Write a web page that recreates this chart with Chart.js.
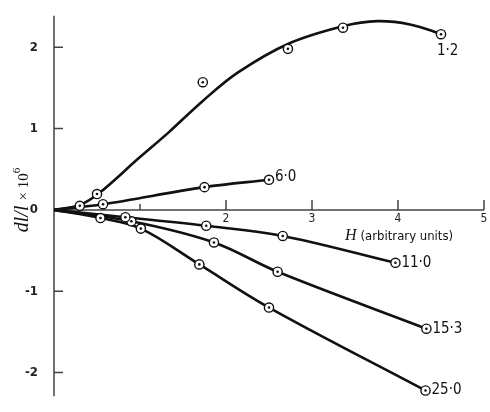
<!DOCTYPE html>
<html>
<head>
<meta charset="utf-8">
<script src="https://cdn.jsdelivr.net/npm/chart.js@4/dist/chart.umd.min.js"></script>
<style>
  body { margin: 0; background: #fff; }
  canvas { display: block; }
</style>
</head>
<body>
<canvas id="chart" width="490" height="412"></canvas>
<script>
// Series labels (field values) as written on the plot
const seriesNames = ['1·2', '6·0', '11·0', '15·3', '25·0'];

// Measured points for each series
const x12 = [0.30, 0.50, 1.73, 2.72, 3.36, 4.50];
const y12 = [0.05, 0.195, 1.57, 1.98, 2.24, 2.16];
const x60 = [0.57, 1.75, 2.50];
const y60 = [0.07, 0.28, 0.37];
const x110 = [0.83, 1.77, 2.66, 3.97];
const y110 = [-0.09, -0.195, -0.32, -0.65];
const x153 = [0.90, 1.86, 2.60, 4.33];
const y153 = [-0.14, -0.40, -0.76, -1.46];
const x250 = [0.54, 1.01, 1.69, 2.50, 4.32];
const y250 = [-0.10, -0.23, -0.67, -1.20, -2.22];

// Drawn curve for 1·2 (the fitted line does not pass through every point)
const curveX12 = [0, 0.30, 0.53, 0.99, 1.33, 1.73, 2.14, 2.72, 3.37, 3.76, 4.14, 4.51];
const curveY12 = [0, 0.06, 0.21, 0.64, 0.95, 1.34, 1.69, 2.04, 2.26, 2.32, 2.28, 2.16];

// Axis ticks
const xTicks = [1, 2, 3, 4, 5];
const xTickLabels = ['', '2', '3', '4', '5'];
const yTicks = [-2, -1, 0, 1, 2];
const yTickLabels = ['-2', '-1', '0', '1', '2'];

const toPts = (xs, ys) => xs.map((x, i) => ({ x, y: ys[i] }));
const withOrigin = (xs, ys) => [{ x: 0, y: 0 }].concat(toPts(xs, ys));

const pointSets = [toPts(x12, y12), toPts(x60, y60), toPts(x110, y110), toPts(x153, y153), toPts(x250, y250)];
const curveSets = [
  toPts(curveX12, curveY12),
  withOrigin(x60, y60),
  withOrigin(x110, y110),
  withOrigin(x153, y153),
  withOrigin(x250, y250)
];

const datasets = [];
pointSets.forEach((pts, i) => {
  // centre dot
  datasets.push({ data: pts, showLine: false, pointRadius: 1.3, pointBackgroundColor: '#111',
    pointBorderWidth: 0, order: 0 });
  // ring
  datasets.push({ data: pts, showLine: false, pointRadius: 4.6, pointBackgroundColor: '#fff',
    pointBorderColor: '#111', pointBorderWidth: 1.4, order: 1 });
});
curveSets.forEach(pts => {
  datasets.push({ data: pts, showLine: true, pointRadius: 0, borderColor: '#111', borderWidth: 2.6,
    tension: 0.35, order: 2 });
});

// Axes through the origin, inward ticks, labels and titles
const axesPlugin = {
  id: 'axesPlugin',
  beforeDatasetsDraw(chart) {
    const { ctx, chartArea: a, scales: { x, y } } = chart;
    const y0 = y.getPixelForValue(0);
    ctx.save();
    ctx.strokeStyle = '#444';
    ctx.lineWidth = 1.5;
    ctx.beginPath();
    ctx.moveTo(a.left, a.top); ctx.lineTo(a.left, a.bottom);
    ctx.moveTo(a.left, y0); ctx.lineTo(a.right, y0);
    // x ticks point up
    xTicks.forEach(v => {
      const px = x.getPixelForValue(v);
      ctx.moveTo(px, y0); ctx.lineTo(px, y0 - (v === 1 ? 6 : 10));
    });
    // y ticks point right
    yTicks.forEach(v => {
      if (v === 0) return;
      const py = y.getPixelForValue(v);
      ctx.moveTo(a.left, py); ctx.lineTo(a.left + 9, py);
    });
    ctx.stroke();

    ctx.fillStyle = '#222';
    ctx.font = '12px "DejaVu Sans Condensed", "DejaVu Sans", sans-serif';
    ctx.textAlign = 'center';
    ctx.textBaseline = 'top';
    xTicks.forEach((v, i) => {
      ctx.fillText(xTickLabels[i], x.getPixelForValue(v), y0 + 3);
    });
    ctx.restore();
  },
  afterDatasetsDraw(chart) {
    const { ctx, scales: { x, y } } = chart;
    ctx.save();
    ctx.fillStyle = '#111';
    ctx.textBaseline = 'middle';
    ctx.textAlign = 'left';
    ctx.font = '15px "DejaVu Sans Condensed", "DejaVu Sans", sans-serif';
    pointSets.forEach((pts, i) => {
      const last = pts[pts.length - 1];
      const px = x.getPixelForValue(last.x);
      const py = y.getPixelForValue(last.y);
      if (i === 0) ctx.fillText(seriesNames[i], px - 4, py + 17);
      else ctx.fillText(seriesNames[i], px + 6, py + (i === 1 ? -3 : 0));
    });

    // x title
    ctx.textBaseline = 'alphabetic';
    ctx.font = 'italic 16px "Liberation Serif", serif';
    ctx.fillText('H', 345, 240);
    const hw = ctx.measureText('H ').width;
    ctx.font = '13px "DejaVu Sans Condensed", "DejaVu Sans", sans-serif';
    ctx.fillText('(arbitrary units)', 345 + hw, 240);

    // y title, rotated
    ctx.translate(28, 200);
    ctx.rotate(-Math.PI / 2);
    const f1 = 'italic 20px "Liberation Serif", serif';
    const f2 = '15px "Liberation Serif", serif';
    const f3 = '11px "Liberation Serif", serif';
    ctx.font = f1; const w1 = ctx.measureText('dl/l ').width;
    ctx.font = f2; const w2 = ctx.measureText('× 10').width;
    ctx.font = f3; const w3 = ctx.measureText('6').width;
    let sx = -(w1 + w2 + w3) / 2;
    ctx.font = f1; ctx.fillText('dl/l ', sx, 0); sx += w1;
    ctx.font = f2; ctx.fillText('× 10', sx, 0); sx += w2;
    ctx.font = f3; ctx.fillText('6', sx, -8);
    ctx.restore();
  }
};

new Chart(document.getElementById('chart'), {
  type: 'scatter',
  data: { datasets },
  options: {
    responsive: false,
    animation: false,
    layout: { padding: { top: 7, bottom: 5, right: 2, left: 0 } },
    plugins: { legend: { display: false }, tooltip: { enabled: false } },
    scales: {
      x: { type: 'linear', min: 0, max: 5, display: false },
      y: {
        type: 'linear', min: -2.29, max: 2.386,
        grid: { display: false },
        border: { display: false },
        afterFit: s => { s.width = 54; },
        afterBuildTicks: s => { s.ticks = yTicks.map(v => ({ value: v })); },
        ticks: {
          padding: 8,
          color: '#222',
          font: { family: '"DejaVu Sans Condensed", "DejaVu Sans", sans-serif', size: 13, weight: 'bold' },
          callback: (v) => yTickLabels[yTicks.indexOf(v)]
        }
      }
    }
  },
  plugins: [axesPlugin]
});
</script>
</body>
</html>
